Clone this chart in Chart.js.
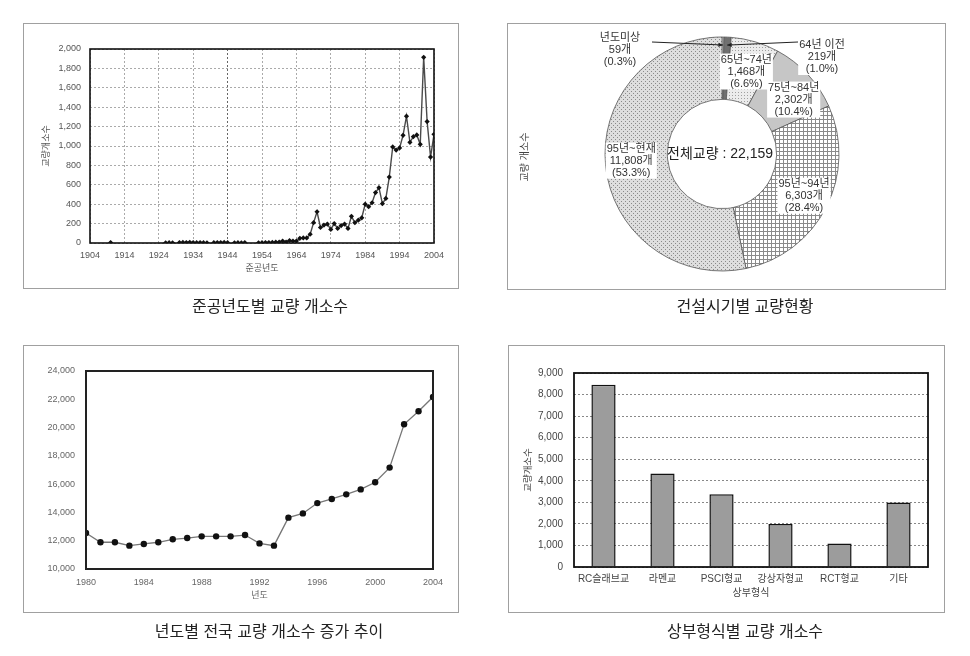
<!doctype html>
<html lang="ko">
<head>
<meta charset="utf-8">
<title>교량 현황</title>
<script src="https://cdn.jsdelivr.net/npm/chart.js@4.4.0/dist/chart.umd.min.js"></script>
<style>
  body { margin: 0; background: #fff; width: 970px; height: 656px; position: relative; overflow: hidden;
         font-family: "Noto Sans CJK KR", sans-serif; }
  .panel { position: absolute; outline: 1px solid #a0a0a0; outline-offset: -1px; background: #fff; }
  .panel canvas { display: block; }
  .caption { position: absolute; width: 400px; text-align: center; font-size: 16px; line-height: 20px; color: #222; }
</style>
</head>
<body>
  <div class="panel" style="left:23px; top:23px;"><canvas id="c1" width="436" height="266"></canvas></div>
  <div class="panel" style="left:507px; top:23px;"><canvas id="c2" width="439" height="267"></canvas></div>
  <div class="panel" style="left:23px; top:345px;"><canvas id="c3" width="436" height="268"></canvas></div>
  <div class="panel" style="left:508px; top:345px;"><canvas id="c4" width="437" height="268"></canvas></div>

  <div class="caption" style="left:70px; top:295px;">준공년도별 교량 개소수</div>
  <div class="caption" style="left:545px; top:295px;">건설시기별 교량현황</div>
  <div class="caption" style="left:69px; top:620px;">년도별 전국 교량 개소수 증가 추이</div>
  <div class="caption" style="left:545px; top:620px;">상부형식별 교량 개소수</div>

<script>
// --- data ---------------------------------------------------------------
// 준공년도별 교량 개소수 (null = 끊김)
const builtYears = [1910, 1911,
  1926, 1927, 1928, 1929,
  1930, 1931, 1932, 1933, 1934, 1935, 1936, 1937, 1938, 1939,
  1940, 1941, 1942, 1943, 1944, 1945,
  1946, 1947, 1948, 1949, 1950,
  1953, 1954, 1955, 1956, 1957, 1958, 1959, 1960, 1961, 1962, 1963, 1964,
  1965, 1966, 1967, 1968, 1969, 1970, 1971, 1972, 1973, 1974,
  1975, 1976, 1977, 1978, 1979, 1980, 1981, 1982, 1983, 1984,
  1985, 1986, 1987, 1988, 1989, 1990, 1991, 1992, 1993, 1994,
  1995, 1996, 1997, 1998, 1999, 2000, 2001, 2002, 2003, 2004];
const builtCounts = [4, null,
  2, 3, 2, null,
  4, 6, 5, 7, 4, 3, 5, 3, 2, null,
  3, 5, 4, 6, 3, null,
  2, 3, 2, 4, null,
  2, 3, 4, 5, 6, 8, 10, 20, 10, 25, 20, 20,
  48, 52, 52, 90, 210, 322, 160, 185, 195, 140,
  200, 150, 180, 195, 150, 275, 210, 235, 260, 400,
  375, 415, 520, 570, 405, 460, 680, 990, 958, 980,
  1110, 1307, 1038, 1096, 1114, 1017, 1914, 1252, 886, 1120];
const builtYearTicks = [1904, 1914, 1924, 1934, 1944, 1954, 1964, 1974, 1984, 1994, 2004];

// 건설시기별 교량현황
const periods = ['년도미상', '64년 이전', '65년~74년', '75년~84년', '95년~94년', '95년~현재'];
const periodCounts = [59, 219, 1468, 2302, 6303, 11808];

// 년도별 전국 교량 개소수
const trendYears = [1980, 1981, 1982, 1983, 1984, 1985, 1986, 1987, 1988, 1989, 1990, 1991,
  1992, 1993, 1994, 1995, 1996, 1997, 1998, 1999, 2000, 2001, 2002, 2003, 2004];
const trendCounts = [12550, 11890, 11890, 11650, 11770, 11890, 12100, 12190, 12310, 12310, 12310, 12400,
  11810, 11650, 13630, 13930, 14660, 14950, 15280, 15630, 16130, 17170, 20230, 21150, 22159];
const trendYearTicks = [1980, 1984, 1988, 1992, 1996, 2000, 2004];

// 상부형식별 교량 개소수
const superTypes = ['RC슬래브교', '라멘교', 'PSCI형교', '강상자형교', 'RCT형교', '기타'];
const superCounts = [8450, 4340, 3370, 1990, 1090, 2990];

// --- common -------------------------------------------------------------
const FONT = "'Liberation Sans', 'Noto Sans CJK KR', sans-serif";
Chart.defaults.font.family = FONT;
Chart.defaults.animation = false;
Chart.defaults.events = [];
Chart.defaults.plugins.legend.display = false;
Chart.defaults.plugins.tooltip.enabled = false;

const fmt = v => Number(v).toLocaleString('en-US');

// black box round the plot area
const frame = {
  id: 'frame',
  afterDatasetsDraw(chart, args, opts) {
    const { ctx, chartArea: a } = chart;
    ctx.save();
    ctx.strokeStyle = opts.color || '#111';
    ctx.lineWidth = opts.width || 1.5;
    ctx.strokeRect(a.left, a.top, a.right - a.left, a.bottom - a.top);
    ctx.restore();
  }
};

// --- chart 1 : 준공년도별 ------------------------------------------------
new Chart(document.getElementById('c1'), {
  type: 'line',
  data: {
    datasets: [{
      data: builtYears.map((y, i) => ({ x: y, y: builtCounts[i] })),
      borderColor: '#4a4a4a', borderWidth: 1.4, tension: 0, spanGaps: false,
      pointStyle: 'rectRot', pointRadius: 2.6,
      pointBackgroundColor: '#111', pointBorderColor: '#111', pointBorderWidth: 0
    }]
  },
  options: {
    responsive: false,
    layout: { padding: { left: 0, top: 26, right: 25, bottom: 0 } },
    plugins: { frame: { width: 1.6 } },
    scales: {
      x: {
        type: 'linear', min: 1904, max: 2004,
        afterBuildTicks: s => { s.ticks = builtYearTicks.map(v => ({ value: v })); },
        afterFit: s => { s.height = 46; },
        grid: { color: c => (c.tick && c.tick.value === 1944) ? '#666' : '#aaa', drawTicks: false },
        border: { display: false, dash: [2, 2] },
        ticks: { padding: 7, color: '#555', font: { size: 9 }, callback: v => String(v) },
        title: { display: true, text: '준공년도', color: '#555', font: { size: 9 }, padding: { top: 0, bottom: 15 } }
      },
      y: {
        min: 0, max: 2000,
        afterFit: s => { s.width = 67; },
        grid: { color: '#aaa', drawTicks: false },
        border: { display: false, dash: [2, 2] },
        ticks: { stepSize: 200, padding: 9, color: '#555', font: { size: 9 }, callback: fmt },
        title: { display: true, text: '교량개소수', color: '#555', font: { size: 9 }, padding: { top: 18, bottom: 0 } }
      }
    }
  },
  plugins: [frame]
});

// --- chart 2 : 건설시기별 (doughnut) -------------------------------------
const c2 = document.getElementById('c2');
function pattern(bg, fg, size, dots) {
  const c = document.createElement('canvas');
  c.width = c.height = size;
  const g = c.getContext('2d');
  g.fillStyle = bg; g.fillRect(0, 0, size, size);
  g.fillStyle = fg;
  dots.forEach(d => g.fillRect(d[0], d[1], d[2] || 1, d[3] || 1));
  return c2.getContext('2d').createPattern(c, 'repeat');
}
const periodFills = [
  '#ffffff',
  '#707070',
  pattern('#ececec', '#a0a0a0', 3, [[0, 0]]),
  '#c6c6c6',
  pattern('#ffffff', '#8a8a8a', 4, [[0, 0, 4, 1], [0, 0, 1, 4]]),
  pattern('#dedede', '#8a8a8a', 4, [[0, 0], [2, 2]])
];
// where each label box sits (style only)
const labelPlacement = [
  { dx: -102, dy: -104, from: [-70, -112] },
  { dx: 100, dy: -97, from: [76, -112] },
  { r: 86, turn: 0 },
  { r: 90, turn: 0.1 },
  { r: 92, turn: 0 },
  { r: 91, turn: 0.03 }
];

const donutLabels = {
  id: 'donutLabels',
  afterDraw(chart) {
    const ctx = chart.ctx;
    const arcs = chart.getDatasetMeta(0).data;
    const cx = arcs[0].x, cy = arcs[0].y;
    const total = periodCounts.reduce((a, b) => a + b, 0);
    ctx.save();
    ctx.textAlign = 'center';
    ctx.textBaseline = 'middle';

    arcs.forEach((arc, i) => {
      const p = labelPlacement[i];
      const mid = (arc.startAngle + arc.endAngle) / 2;
      let x, y;
      if (p.r) {
        x = cx + p.r * Math.cos(mid + p.turn);
        y = cy + p.r * Math.sin(mid + p.turn);
      } else {
        x = cx + p.dx; y = cy + p.dy;
        // arrow to the thin slice
        const tx = cx + (arc.outerRadius - 8) * Math.cos(mid);
        const ty = cy + (arc.outerRadius - 8) * Math.sin(mid);
        const fx = cx + p.from[0], fy = cy + p.from[1];
        ctx.strokeStyle = '#222'; ctx.fillStyle = '#222'; ctx.lineWidth = 1;
        ctx.beginPath(); ctx.moveTo(fx, fy); ctx.lineTo(tx, ty); ctx.stroke();
        const ang = Math.atan2(ty - fy, tx - fx);
        ctx.beginPath();
        ctx.moveTo(tx, ty);
        ctx.lineTo(tx - 5 * Math.cos(ang - 0.45), ty - 5 * Math.sin(ang - 0.45));
        ctx.lineTo(tx - 5 * Math.cos(ang + 0.45), ty - 5 * Math.sin(ang + 0.45));
        ctx.closePath(); ctx.fill();
      }
      const pct = (periodCounts[i] / total * 100).toFixed(1);
      const lines = [periods[i], fmt(periodCounts[i]) + '개', '(' + pct + '%)'];
      ctx.font = '11px ' + FONT;
      const w = Math.max(...lines.map(t => ctx.measureText(t).width)) + 2;
      const lh = 12;
      ctx.fillStyle = '#fff';
      ctx.fillRect(x - w / 2, y - lh * 1.5, w, lh * 3);
      ctx.fillStyle = '#333';
      lines.forEach((t, k) => ctx.fillText(t, x, y + (k - 1) * lh));
    });

    ctx.font = '14px ' + FONT;
    ctx.fillStyle = '#222';
    ctx.fillText('전체교량 : ' + fmt(total), cx - 2, cy);

    ctx.translate(18, 134);
    ctx.rotate(-Math.PI / 2);
    ctx.font = '10px ' + FONT;
    ctx.fillStyle = '#444';
    ctx.fillText('교량 개소수', 0, 0);
    ctx.restore();
  }
};

new Chart(c2, {
  type: 'doughnut',
  data: {
    labels: periods,
    datasets: [{ data: periodCounts, backgroundColor: periodFills, borderColor: '#555', borderWidth: 0.8 }]
  },
  options: {
    responsive: false,
    radius: 117,
    cutout: 61,
    layout: { padding: { left: 0, right: 9, top: 0, bottom: 5 } }
  },
  plugins: [donutLabels]
});

// --- chart 3 : 년도별 증가 추이 ------------------------------------------
new Chart(document.getElementById('c3'), {
  type: 'line',
  data: {
    datasets: [{
      data: trendYears.map((y, i) => ({ x: y, y: trendCounts[i] })),
      borderColor: '#777', borderWidth: 1.3, tension: 0,
      pointStyle: 'circle', pointRadius: 3.2,
      pointBackgroundColor: '#111', pointBorderColor: '#111', pointBorderWidth: 0
    }]
  },
  options: {
    responsive: false,
    layout: { padding: { left: 0, top: 26, right: 26, bottom: 0 } },
    plugins: { frame: { width: 2, color: '#222' } },
    scales: {
      x: {
        type: 'linear', min: 1980, max: 2004,
        afterBuildTicks: s => { s.ticks = trendYearTicks.map(v => ({ value: v })); },
        afterFit: s => { s.height = 44; },
        grid: { display: false, drawTicks: false },
        border: { display: false },
        ticks: { padding: 8, color: '#666', font: { size: 9 }, callback: v => String(v) },
        title: { display: true, text: '년도', color: '#666', font: { size: 9 }, padding: { top: 0, bottom: 12 } }
      },
      y: {
        min: 10000, max: 24000,
        afterFit: s => { s.width = 63; },
        grid: { display: false, drawTicks: false },
        border: { display: false },
        ticks: { stepSize: 2000, padding: 11, color: '#666', font: { size: 9 }, callback: fmt }
      }
    }
  },
  plugins: [frame]
});

// --- chart 4 : 상부형식별 -------------------------------------------------
new Chart(document.getElementById('c4'), {
  type: 'bar',
  data: {
    labels: superTypes,
    datasets: [{
      data: superCounts,
      backgroundColor: '#9c9c9c', borderColor: '#111', borderWidth: 1.5,
      barPercentage: 0.41, categoryPercentage: 1
    }]
  },
  options: {
    responsive: false,
    layout: { padding: { left: 0, top: 28, right: 17, bottom: 0 } },
    plugins: { frame: { width: 1.8 } },
    scales: {
      x: {
        afterFit: s => { s.height = 46; },
        grid: { display: false, drawTicks: false },
        border: { display: false },
        ticks: { padding: 6, color: '#444', font: { size: 10 } },
        title: { display: true, text: '상부형식', color: '#444', font: { size: 10 }, padding: { top: 0, bottom: 14 } }
      },
      y: {
        min: 0, max: 9000,
        afterFit: s => { s.width = 66; },
        grid: { color: '#888', drawTicks: false },
        border: { display: false, dash: [2, 2] },
        ticks: { stepSize: 1000, padding: 11, color: '#444', font: { size: 10 }, callback: fmt },
        title: { display: true, text: '교량개소수', color: '#444', font: { size: 9.5 }, padding: { top: 15, bottom: 0 } }
      }
    }
  },
  plugins: [frame]
});
</script>
</body>
</html>
